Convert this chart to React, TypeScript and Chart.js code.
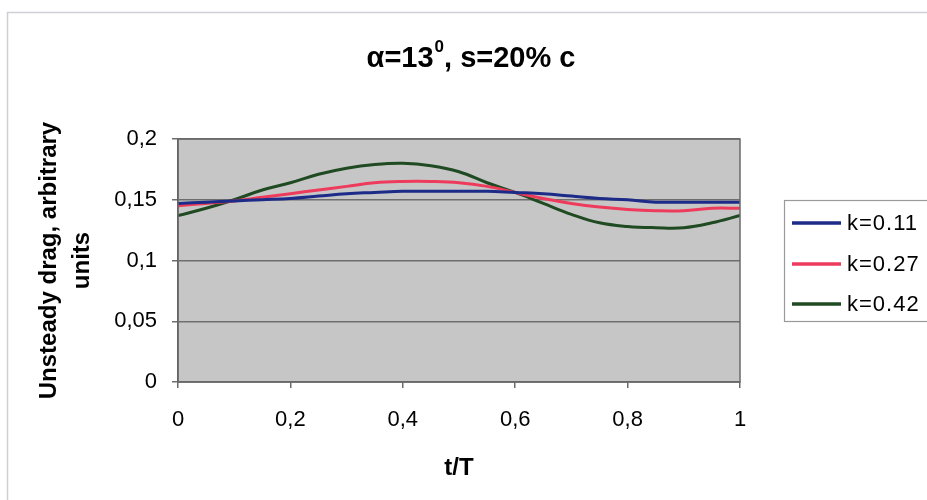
import React, { useEffect, useRef } from "react";
import { Chart, registerables } from "chart.js";

Chart.register(...registerables);

const tValues = [0, 0.05, 0.1, 0.15, 0.2, 0.25, 0.3, 0.35, 0.4, 0.45, 0.5, 0.55, 0.6, 0.65, 0.7, 0.75, 0.8, 0.85, 0.9, 0.95, 1];
const k011 = [0.147, 0.148, 0.149, 0.15, 0.151, 0.153, 0.155, 0.156, 0.157, 0.157, 0.157, 0.157, 0.156, 0.155, 0.153, 0.151, 0.15, 0.148, 0.148, 0.148, 0.148];
const k027 = [0.145, 0.147, 0.149, 0.152, 0.155, 0.158, 0.161, 0.164, 0.165, 0.165, 0.164, 0.161, 0.156, 0.151, 0.147, 0.144, 0.142, 0.141, 0.141, 0.143, 0.143];
const k042 = [0.137, 0.143, 0.15, 0.158, 0.164, 0.171, 0.176, 0.179, 0.18, 0.178, 0.173, 0.164, 0.156, 0.147, 0.138, 0.131, 0.128, 0.127, 0.127, 0.131, 0.137];
const seriesLabels = ["k=0.11", "k=0.27", "k=0.42"];
const seriesColors = ["#1c2a88", "#ee3b5c", "#1f4a22"];
const xTitle = "t/T";
const yTitle = ["Unsteady drag, arbitrary", "units"];

const FONT = "'Liberation Sans', Arial, sans-serif";

const decorPlugin = {
  id: "decor",
  beforeDraw(chart: any) {
    const { ctx, chartArea } = chart;
    ctx.save();
    ctx.fillStyle = "#ffffff";
    ctx.fillRect(0, 0, chart.width, chart.height);
    ctx.strokeStyle = "#cfcfd6";
    ctx.lineWidth = 1.5;
    ctx.beginPath();
    ctx.moveTo(7.5, 500);
    ctx.lineTo(7.5, 12.5);
    ctx.lineTo(927, 12.5);
    ctx.stroke();
    ctx.fillStyle = "#c6c6c6";
    ctx.fillRect(chartArea.left, chartArea.top, chartArea.right - chartArea.left, chartArea.bottom - chartArea.top);
    ctx.restore();
  },
  afterDatasetsDraw(chart: any) {
    const { ctx, chartArea } = chart;
    ctx.save();
    ctx.strokeStyle = "#6a6a6a";
    ctx.lineWidth = 1.5;
    ctx.strokeRect(chartArea.left, chartArea.top, chartArea.right - chartArea.left, chartArea.bottom - chartArea.top);
    ctx.restore();
  },
  afterDraw(chart: any) {
    const { ctx } = chart;
    ctx.save();
    const big = `bold 29px ${FONT}`;
    const small = `bold 17px ${FONT}`;
    const p1 = "\u03b1=13";
    const sup = "0";
    const p2 = ", s=20% c";
    ctx.font = big;
    const w1 = ctx.measureText(p1).width;
    const w3 = ctx.measureText(p2).width;
    ctx.font = small;
    const w2 = ctx.measureText(sup).width;
    const total = w1 + w2 + 1 + w3;
    let x = 471 - total / 2;
    const base = 67;
    ctx.fillStyle = "#000";
    ctx.textBaseline = "alphabetic";
    ctx.textAlign = "left";
    ctx.font = big;
    ctx.fillText(p1, x, base);
    x += w1 + 1;
    ctx.font = small;
    ctx.fillText(sup, x, base - 15);
    x += w2;
    ctx.font = big;
    ctx.fillText(p2, x, base);

    ctx.fillStyle = "#ffffff";
    ctx.fillRect(784, 200, 160, 121);
    ctx.strokeStyle = "#9a9a9a";
    ctx.lineWidth = 1.2;
    ctx.strokeRect(784.5, 200.5, 160, 121);
    const rows = [223, 264, 304];
    ctx.font = `22px ${FONT}`;
    (ctx as any).letterSpacing = "1px";
    ctx.textBaseline = "middle";
    seriesLabels.forEach((lab, i) => {
      ctx.strokeStyle = seriesColors[i];
      ctx.lineWidth = 3.5;
      ctx.beginPath();
      ctx.moveTo(792, rows[i]);
      ctx.lineTo(841, rows[i]);
      ctx.stroke();
      ctx.fillStyle = "#000";
      ctx.fillText(lab, 847, rows[i] + 1);
    });
    ctx.restore();
  },
};

export default function App() {
  const ref = useRef<HTMLCanvasElement | null>(null);
  useEffect(() => {
    if (!ref.current) return;
    const series = [k011, k027, k042];
    const chart = new Chart(ref.current, {
      type: "line",
      data: {
        datasets: series.map((vals, i) => ({
          label: seriesLabels[i],
          data: tValues.map((t, j) => ({ x: t, y: vals[j] })),
          borderColor: seriesColors[i],
          backgroundColor: seriesColors[i],
          borderWidth: 3,
          pointRadius: 0,
          tension: 0.4,
          fill: false,
        })),
      },
      options: {
        responsive: false,
        animation: false,
        layout: { padding: { left: 0, right: 187, top: 139, bottom: 0 } },
        plugins: {
          legend: { display: false },
          title: { display: false },
          tooltip: { enabled: false },
        },
        scales: {
          x: {
            type: "linear",
            min: 0,
            max: 1,
            afterFit: (s: any) => {
              s.height = 118;
            },
            ticks: {
              stepSize: 0.2,
              padding: 19,
              color: "#000",
              font: { family: FONT, size: 22 },
              maxRotation: 0,
              callback: (v: any) => String(+Number(v).toFixed(1)).replace(".", ","),
            },
            grid: { drawOnChartArea: false, drawTicks: true, tickLength: 6, color: "#6a6a6a", lineWidth: 1.5 },
            border: { display: true, color: "#6a6a6a", width: 1.5 },
            title: {
              display: true,
              text: xTitle,
              color: "#000",
              font: { family: FONT, size: 24, weight: "bold" },
              padding: { top: 0, bottom: 17 },
            },
          },
          y: {
            type: "linear",
            min: 0,
            max: 0.2,
            afterFit: (s: any) => {
              s.width = 178;
            },
            ticks: {
              stepSize: 0.05,
              padding: 15,
              color: "#000",
              font: { family: FONT, size: 22 },
              callback: (v: any) => String(+Number(v).toFixed(2)).replace(".", ","),
            },
            grid: { drawOnChartArea: true, drawTicks: true, tickLength: 6, color: "#6e6e6e", lineWidth: 1.5 },
            border: { display: true, color: "#555", width: 1.5 },
            title: {
              display: true,
              text: yTitle,
              color: "#000",
              font: { family: FONT, size: 24, weight: "bold", lineHeight: 1.375 },
              padding: { top: 33, bottom: 0 },
            },
          },
        },
      },
      plugins: [decorPlugin],
    });
    return () => chart.destroy();
  }, []);
  return (
    <div style={{ position: "absolute", left: 0, top: 0, width: 927, height: 500 }}>
      <canvas ref={ref} width={927} height={500} style={{ width: 927, height: 500, display: "block" }} />
    </div>
  );
}
